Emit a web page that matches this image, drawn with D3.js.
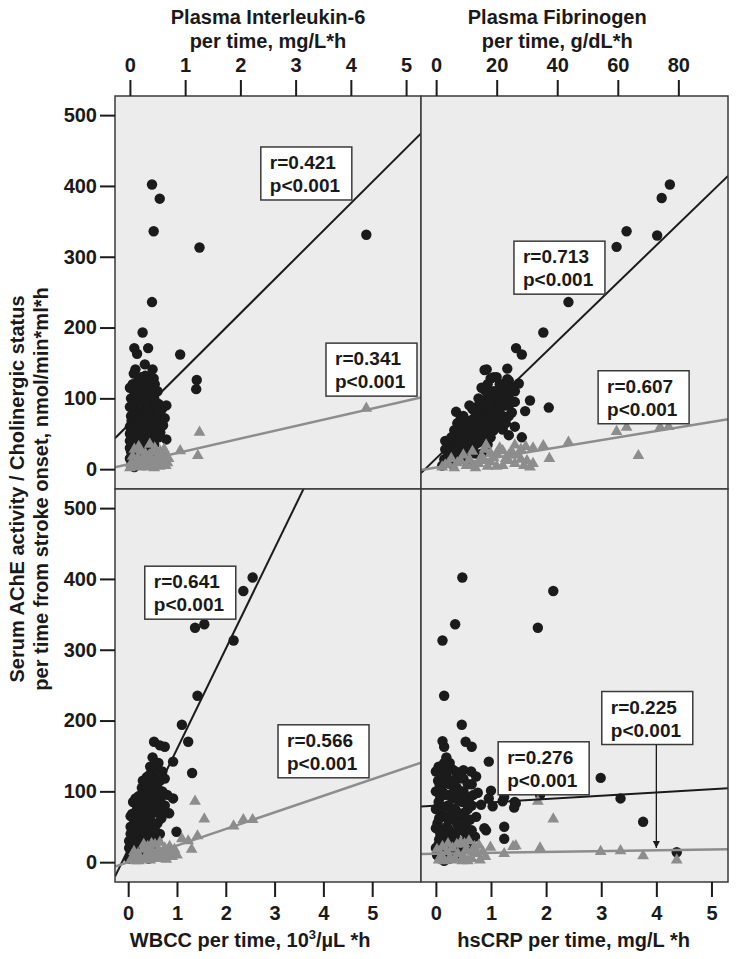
<!DOCTYPE html>
<html>
<head>
<meta charset="utf-8">
<script src="https://cdn.jsdelivr.net/npm/d3@7"></script>
<style>
  body { margin: 0; background: #fff; }
  svg text { font-family: "Liberation Sans", Arial, sans-serif; font-weight: bold; fill: #1a1a1a; }
</style>
</head>
<body>
<div class="app"></div>
<script>
'use strict'

// --- tick labels
var yTicks = [0, 100, 200, 300, 400, 500];
var il6Ticks = [0, 1, 2, 3, 4, 5];
var fibTicks = [0, 20, 40, 60, 80];
var wbccTicks = [0, 1, 2, 3, 4, 5];
var crpTicks = [0, 1, 2, 3, 4, 5];

// --- correlation labels
var rAche = ["0.421", "0.713", "0.641", "0.276"];
var rChol = ["0.341", "0.607", "0.566", "0.225"];
var pLabel = "p<0.001";

// --- regression fits [intercept, slope]
var fitAche = [[64.7, 77.7], [15.1, 4.14], [18, 141.7], [79.8, 4.67]];
var fitChol = [[7.6, 17.8], [2.5, 0.705], [0.1, 23.4], [12, 1.2]];

// --- IL-6 per time vs AChE (circles) / cholinergic status (triangles)
var il6Ache = [[0.40,402],[0.54,382],[0.43,336],[1.26,313],[4.28,331],[0.40,236],[0.23,193],[0.08,171],[0.13,163],[0.33,171],
  [0.27,148],[0.41,141],[0.10,141],[0.91,162],[1.21,126],[1.20,113],[0.66,90],[0.63,72],[0.66,42],[0.45,24],[0.55,52],[0.48,65],
  [0.05,120],[0.15,125],[0.25,118],[0.35,128],[0.45,120],[0.50,110],[0.30,105],[0.18,108],[0.02,100],[0.12,95],[0.22,98],
  [0.38,95],[0.52,92],[0.58,85],[0.08,85],[0.20,82],[0.30,88],[0.42,80],[0.55,75],[0.02,75],[0.12,72],[0.25,70],[0.35,68],
  [0.47,72],[0.60,62],[0.05,62],[0.18,58],[0.30,55],[0.40,58],[0.52,60],[0.00,50],[0.10,48],[0.22,45],[0.33,42],[0.45,45],
  [0.05,38],[0.15,35],[0.26,32],[0.38,35],[0.02,25],[0.12,22],[0.22,20],[0.32,18],[0.05,12],[0.15,10],[0.25,8],[0.02,5],
  [0.10,110],[0.28,132],[0.40,112],[0.07,135],
  [0.00,115],[0.08,105],[0.16,98],[0.26,92],[0.34,115],[0.44,100],[0.05,92],[0.15,82],[0.27,80],[0.37,82],[0.48,88],[0.00,88],
  [0.09,75],[0.19,68],[0.29,65],[0.40,68],[0.50,80],[0.03,68],[0.13,60],[0.24,57],[0.36,52],[0.46,55],[0.00,60],[0.08,52],
  [0.18,45],[0.28,48],[0.41,40],[0.52,45],[0.00,40],[0.10,38],[0.20,32],[0.31,30],[0.44,35],[0.00,30],[0.07,22],[0.18,25],
  [0.28,15],[0.38,22],[0.00,15],[0.10,15],[0.20,8],[0.08,3],[0.32,125],[0.20,130],[0.12,118],[0.43,128]];
var il6Chol = [[4.28,86],[1.26,52],[1.23,19],[0.91,26],[0.63,24],[0.70,15],[0.60,10],[0.50,18],[0.45,30],[0.40,8],[0.35,20],
  [0.30,12],[0.25,5],[0.20,25],[0.15,15],[0.10,5],[0.05,18],[0.02,8],[0.08,28],[0.18,3],[0.28,22],[0.38,14],[0.48,6],[0.55,25],
  [0.65,5],[0.12,12],[0.22,10],[0.32,3],[0.42,24],[0.52,12],[0.58,20],[0.00,2],[0.16,32],[0.36,35],[0.62,28],
  [0.05,4],[0.14,6],[0.26,14],[0.44,2],[0.54,4],[0.68,9]];

// --- fibrinogen per time
var fibAche = [[77.2,402],[74.5,383],[73,330],[62.9,336],[59.6,314],[43.7,236],[35.4,193],[26.4,171],[28.3,162],[16.7,141],
  [23.5,142],[23.5,127],[27.3,121],[31,97],[37.2,87],[29.4,82],[28.3,45],[18.6,60],[3.0,40],[2.7,14],
  [3,10],[5,15],[4,25],[7,20],[6,35],[8,30],[9,45],[10,25],[11,40],[12,55],[13,35],[14,50],[15,65],[15,22],[16,45],[17,60],
  [17,80],[18,70],[19,55],[19,95],[20,85],[20,110],[21,70],[21,98],[22,56],[22,120],[23,90],[24,105],[24,75],[25,95],[18,128],
  [16,112],[14,100],[13,85],[12,70],[10,60],[8,55],[6.6,81],[9,75],[11,90],[16,140],[20,130],[26,110],[4,39],[7,50],[13,22],
  [17,35],[26,60],[24,48],[2,5],[3,28],[5,8],[10,12],
  [4,18],[5,30],[6,12],[7,40],[8,22],[9,35],[10,50],[10,38],[11,28],[11,55],[12,42],[12,62],[13,48],[13,75],[14,38],[14,62],
  [15,55],[15,80],[15,90],[16,70],[16,58],[16,95],[17,48],[17,105],[18,85],[18,45],[19,75],[19,110],[20,65],[20,100],[21,85],
  [21,120],[22,75],[22,100],[23,110],[23,65],[24,90],[24,125],[25,80],[25,115],[26,95],[19,130],[17,120],[15,115],[14,90],
  [12,85],[11,68],[9,62],[8,70],[7,65],[6,55],[5,45],[8,42],[6,25]];
var fibChol = [[59.6,53],[62.9,59],[74,59],[76.8,60],[66.8,19],[43.7,38],[35.4,33],[37.4,15],[2,3],[4,8],[6,2],[8,12],[10,5],
  [12,25],[14,8],[15,18],[16,28],[18,10],[20,22],[21,30],[22,5],[23,15],[25,25],[26,8],[27,20],[28,28],[29,5],[30,12],[31,3],
  [5,15],[9,20],[11,14],[13,2],[17,4],[19,16],[24,12],[16.5,34],[26,34],[29.6,32],[32,30],
  [3,6],[7,9],[12,6],[16,12],[20,4],[24,20],[28,14],[32,8],[22,26],[18,22]];

// --- WBCC per time
var wbccAche = [[2.55,402],[2.36,383],[1.37,331],[1.56,336],[2.16,313],[1.42,235],[1.10,194],[1.23,170],[0.53,170],[0.65,165],
  [0.75,163],[0.92,142],[0.50,148],[1.31,126],[0.99,43],[0.84,69],[0.92,90],
  [0.05,10],[0.10,20],[0.02,30],[0.15,35],[0.08,45],[0.20,50],[0.12,60],[0.25,65],[0.18,75],[0.30,80],[0.22,90],[0.35,95],
  [0.28,105],[0.40,100],[0.45,112],[0.55,118],[0.75,118],[0.60,105],[0.50,92],[0.65,88],[0.70,75],[0.55,70],[0.45,60],
  [0.60,55],[0.38,45],[0.50,40],[0.30,30],[0.42,25],[0.20,15],[0.33,12],[0.48,128],[0.38,120],[0.25,40],[0.35,58],[0.40,75],
  [0.48,82],[0.30,50],[0.15,70],[0.10,85],[0.21,93],[0.80,95],[0.58,130],[0.62,140],[0.70,128],[0.05,50],[0.25,22],[0.12,5],
  [0.40,15],[0.55,25],[0.65,40],
  [0.02,5],[0.08,15],[0.15,25],[0.22,30],[0.10,35],[0.18,42],[0.28,45],[0.05,40],[0.12,50],[0.22,58],[0.32,62],[0.42,52],
  [0.18,62],[0.28,70],[0.38,68],[0.50,55],[0.08,68],[0.20,80],[0.32,88],[0.42,90],[0.55,85],[0.62,95],[0.15,90],[0.27,95],
  [0.38,108],[0.50,105],[0.30,115],[0.42,122],[0.52,112],[0.65,115],[0.70,100],[0.60,80],[0.68,62],[0.75,80],[0.35,35],
  [0.45,40],[0.55,45],[0.60,30],[0.50,20],[0.35,20],[0.25,10],[0.42,5],[0.02,20],[0.05,65],[0.45,135],[0.55,140]];
var wbccChol = [[1.37,86],[1.56,61],[2.16,51],[2.36,60],[2.55,60],[1.42,37],[1.30,18],[1.10,33],[1.23,30],[0.05,3],[0.10,8],
  [0.15,2],[0.2,12],[0.25,5],[0.3,18],[0.35,8],[0.4,22],[0.45,3],[0.5,15],[0.55,25],[0.6,10],[0.65,28],[0.7,5],[0.75,20],
  [0.8,12],[0.85,22],[0.9,8],[0.95,18],[1.0,10],[0.12,15],[0.32,25],[0.52,5],[0.72,15],[0.62,18],[0.42,12],
  [0.08,4],[0.22,2],[0.38,4],[0.58,6],[0.78,4],[0.68,12],[0.48,26],[0.88,14]];

// --- hsCRP per time
var crpAche = [[0.48,402],[2.13,383],[1.85,331],[0.35,336],[0.12,313],[0.15,235],[0.47,194],[0.54,170],[0.65,163],[0.12,171],
  [0.15,163],[0.19,148],[0.96,142],[2.99,119],[3.35,90],[3.76,57],[4.37,14],[1.89,95],[1.24,50],[1.24,33],[0.91,45],[1.43,85],
  [1.45,83],[1.24,92],[0.96,90],
  [0.02,10],[0.05,25],[0.08,40],[0.03,55],[0.10,70],[0.05,85],[0.12,100],[0.04,115],[0.15,15],[0.18,30],[0.20,50],[0.15,65],
  [0.22,80],[0.18,95],[0.25,110],[0.30,20],[0.28,38],[0.32,60],[0.35,75],[0.30,90],[0.38,105],[0.40,30],[0.42,50],[0.45,65],
  [0.48,85],[0.50,100],[0.55,55],[0.58,75],[0.62,92],[0.65,110],[0.36,128],[0.64,128],[0.73,121],[0.76,98],[1.00,101],
  [0.82,81],[1.03,79],[1.21,86],[1.42,77],[0.73,64],[0.88,48],[0.71,36],[0.54,41],[0.33,27],[0.03,12],[0.09,117],[0.30,131],
  [0.12,135],[0.25,140],[0.08,5],[0.45,15],[0.60,25],[0.20,120],[0.50,118],
  [0.00,20],[0.06,32],[0.12,45],[0.00,48],[0.06,62],[0.14,78],[0.00,75],[0.08,92],[0.00,100],[0.07,108],[0.16,112],[0.00,128],
  [0.10,125],[0.22,130],[0.25,95],[0.28,70],[0.22,60],[0.25,45],[0.20,35],[0.12,28],[0.35,40],[0.38,55],[0.40,88],[0.42,118],
  [0.45,100],[0.52,70],[0.55,90],[0.48,45],[0.58,110],[0.65,80],[0.68,95],[0.62,60],[0.40,70],[0.33,100],[0.30,115],
  [0.50,130],[0.15,140],[0.05,135],[0.35,10],[0.25,5],[0.15,2],[0.55,30],[0.65,45]];
var crpChol = [[1.85,86],[2.13,61],[2.99,15],[3.35,16],[3.76,9],[4.37,3],[1.89,20],[1.45,23],[1.24,12],[0.99,21],[1.40,22],
  [0.05,3],[0.1,10],[0.15,2],[0.2,15],[0.25,6],[0.3,20],[0.35,4],[0.4,12],[0.45,28],[0.5,8],[0.55,18],[0.6,30],[0.65,5],
  [0.7,22],[0.75,12],[0.8,3],[0.85,15],[0.9,8],[0.02,18],[0.12,22],[0.38,25],[0.58,2],
  [0.08,6],[0.28,3],[0.48,2],[0.68,14],[0.78,24],[0.52,26],[0.22,26]];

// --- layout
var W = 737, H = 959;
var colX = [115, 421, 728];
var rowY = [96, 489, 882];
var yDomain = [-28, 527];

var panels = [
  { col: 0, row: 0, xDomain: [-0.27, 5.27], ticks: il6Ticks, ache: il6Ache, chol: il6Chol,
    title: ["Plasma Interleukin-6", "per time, mg/L*h"],
    boxA: [2.37, 455], boxC: [3.55, 178] },
  { col: 1, row: 0, xDomain: [-5, 96.4], ticks: fibTicks, ache: fibAche, chol: fibChol,
    title: ["Plasma Fibrinogen", "per time, g/dL*h"],
    boxA: [25.7, 322], boxC: [53.5, 139] },
  { col: 0, row: 1, xDomain: [-0.27, 6.0], ticks: wbccTicks, ache: wbccAche, chol: wbccChol,
    title: ["WBCC per time, 10", "3", "/\u00b5L *h"],
    boxA: [0.34, 418], boxC: [3.07, 194] },
  { col: 1, row: 1, xDomain: [-0.27, 5.3], ticks: crpTicks, ache: crpAche, chol: crpChol,
    title: ["hsCRP per time, mg/L *h"],
    boxA: [1.13, 170], boxC: [3.01, 241], arrowTo: [4.0, 20] }
];

var dark = "#1b1b1b";
var grey = "#8d8d8d";
var boxW = 91, boxH = 53;
var fmt = d3.format("d");

var svg = d3.select(".app").append("svg")
  .attr("width", W)
  .attr("height", H);

var defs = svg.append("defs");
defs.append("marker")
  .attr("id", "arrow")
  .attr("viewBox", "0 0 10 10")
  .attr("refX", 10).attr("refY", 5)
  .attr("markerWidth", 7).attr("markerHeight", 7)
  .attr("markerUnits", "userSpaceOnUse")
  .attr("orient", "auto")
  .append("path").attr("d", "M0,0L10,5L0,10z").attr("fill", dark);

panels.forEach(function(p, i) {
  var x0 = colX[p.col], x1 = colX[p.col + 1];
  var y0 = rowY[p.row], y1 = rowY[p.row + 1];

  var x = d3.scaleLinear().domain(p.xDomain).range([x0, x1]);
  var y = d3.scaleLinear().domain(yDomain).range([y1, y0]);

  var g = svg.append("g").attr("class", "panel");

  g.append("rect")
    .attr("x", x0).attr("y", y0)
    .attr("width", x1 - x0).attr("height", y1 - y0)
    .attr("fill", "#ececec");

  var clipId = "clip" + i;
  defs.append("clipPath").attr("id", clipId)
    .append("rect").attr("x", x0).attr("y", y0).attr("width", x1 - x0).attr("height", y1 - y0);

  var plot = g.append("g").attr("clip-path", "url(#" + clipId + ")");

  // black circles: serum AChE
  plot.selectAll("circle.ache").data(p.ache).enter().append("circle")
    .attr("class", "ache")
    .attr("cx", function(d) { return x(d[0]); })
    .attr("cy", function(d) { return y(d[1]); })
    .attr("r", 5.2)
    .attr("fill", dark);

  // grey triangles: cholinergic status
  var tri = d3.symbol().type(d3.symbolTriangle).size(60);
  plot.selectAll("path.chol").data(p.chol).enter().append("path")
    .attr("class", "chol")
    .attr("d", tri)
    .attr("transform", function(d) { return "translate(" + x(d[0]) + "," + y(d[1]) + ")"; })
    .attr("fill", grey);

  // regression lines
  [[fitAche[i], dark, 2], [fitChol[i], grey, 2.5]].forEach(function(f) {
    plot.append("path")
      .attr("d", d3.line()
        .x(function(v) { return x(v); })
        .y(function(v) { return y(f[0][0] + f[0][1] * v); })(p.xDomain))
      .attr("stroke", f[1]).attr("stroke-width", f[2]).attr("fill", "none");
  });

  g.append("rect")
    .attr("x", x0).attr("y", y0)
    .attr("width", x1 - x0).attr("height", y1 - y0)
    .attr("fill", "none").attr("stroke", "#3a3a3a").attr("stroke-width", 1.5);

  // annotation boxes
  function box(pos, r) {
    var bx = x(pos[0]), by = y(pos[1]);
    var b = g.append("g").attr("transform", "translate(" + bx + "," + by + ")");
    b.append("rect").attr("width", boxW).attr("height", boxH)
      .attr("fill", "#fff").attr("stroke", "#3a3a3a").attr("stroke-width", 1.5);
    b.append("text").attr("x", 9).attr("y", 22).style("font-size", "19px").text("r=" + r);
    b.append("text").attr("x", 9).attr("y", 45).style("font-size", "19px").text(pLabel);
    return [bx, by];
  }
  box(p.boxA, rAche[i]);
  var bc = box(p.boxC, rChol[i]);

  if (p.arrowTo) {
    g.append("line")
      .attr("x1", x(p.arrowTo[0])).attr("y1", bc[1] + boxH)
      .attr("x2", x(p.arrowTo[0])).attr("y2", y(p.arrowTo[1]))
      .attr("stroke", dark).attr("stroke-width", 1.3)
      .attr("marker-end", "url(#arrow)");
  }

  // x axis
  if (p.row === 0) {
    var ax = svg.append("g").attr("transform", "translate(0," + y0 + ")")
      .call(d3.axisTop(x).tickValues(p.ticks).tickFormat(fmt).tickSize(16).tickSizeOuter(0).tickPadding(8));
    ax.select(".domain").remove();
    ax.selectAll("line").attr("stroke", dark).attr("stroke-width", 2);
    ax.selectAll("text").style("font-size", "20px").attr("fill", dark);
    var cx = (x(p.ticks[0]) + x(p.ticks[p.ticks.length - 1])) / 2;
    svg.append("text").attr("x", cx).attr("y", 24).attr("text-anchor", "middle")
      .style("font-size", "20px").text(p.title[0]);
    svg.append("text").attr("x", cx).attr("y", 48).attr("text-anchor", "middle")
      .style("font-size", "20px").text(p.title[1]);
  } else {
    var bxAxis = svg.append("g").attr("transform", "translate(0," + y1 + ")")
      .call(d3.axisBottom(x).tickValues(p.ticks).tickFormat(fmt).tickSize(15).tickSizeOuter(0).tickPadding(9));
    bxAxis.select(".domain").remove();
    bxAxis.selectAll("line").attr("stroke", dark).attr("stroke-width", 2);
    bxAxis.selectAll("text").style("font-size", "20px").attr("fill", dark);
    var mx = (x(p.ticks[0]) + x(p.ticks[p.ticks.length - 1])) / 2;
    var t = svg.append("text").attr("x", mx).attr("y", 947).attr("text-anchor", "middle")
      .style("font-size", "20px");
    t.append("tspan").text(p.title[0]);
    if (p.title.length > 1) {
      t.append("tspan").attr("dy", -8).style("font-size", "13px").text(p.title[1]);
      t.append("tspan").attr("dy", 8).text(p.title[2]);
    }
  }

  // y axis on the left column
  if (p.col === 0) {
    var ay = svg.append("g").attr("transform", "translate(" + x0 + ",0)")
      .call(d3.axisLeft(y).tickValues(yTicks).tickFormat(fmt).tickSize(15).tickSizeOuter(0).tickPadding(3));
    ay.select(".domain").remove();
    ay.selectAll("line").attr("stroke", dark).attr("stroke-width", 2);
    ay.selectAll("text").style("font-size", "20px").attr("fill", dark);
  }
});

// y title
var yt = svg.append("g").attr("transform", "translate(0," + rowY[1] + ") rotate(-90)");
yt.append("text").attr("x", 0).attr("y", 24).attr("text-anchor", "middle")
  .style("font-size", "20px").text("Serum AChE activity / Cholinergic status");
yt.append("text").attr("x", 0).attr("y", 48).attr("text-anchor", "middle")
  .style("font-size", "20px").text("per time from stroke onset, nmol/min*ml*h");
</script>
</body>
</html>
